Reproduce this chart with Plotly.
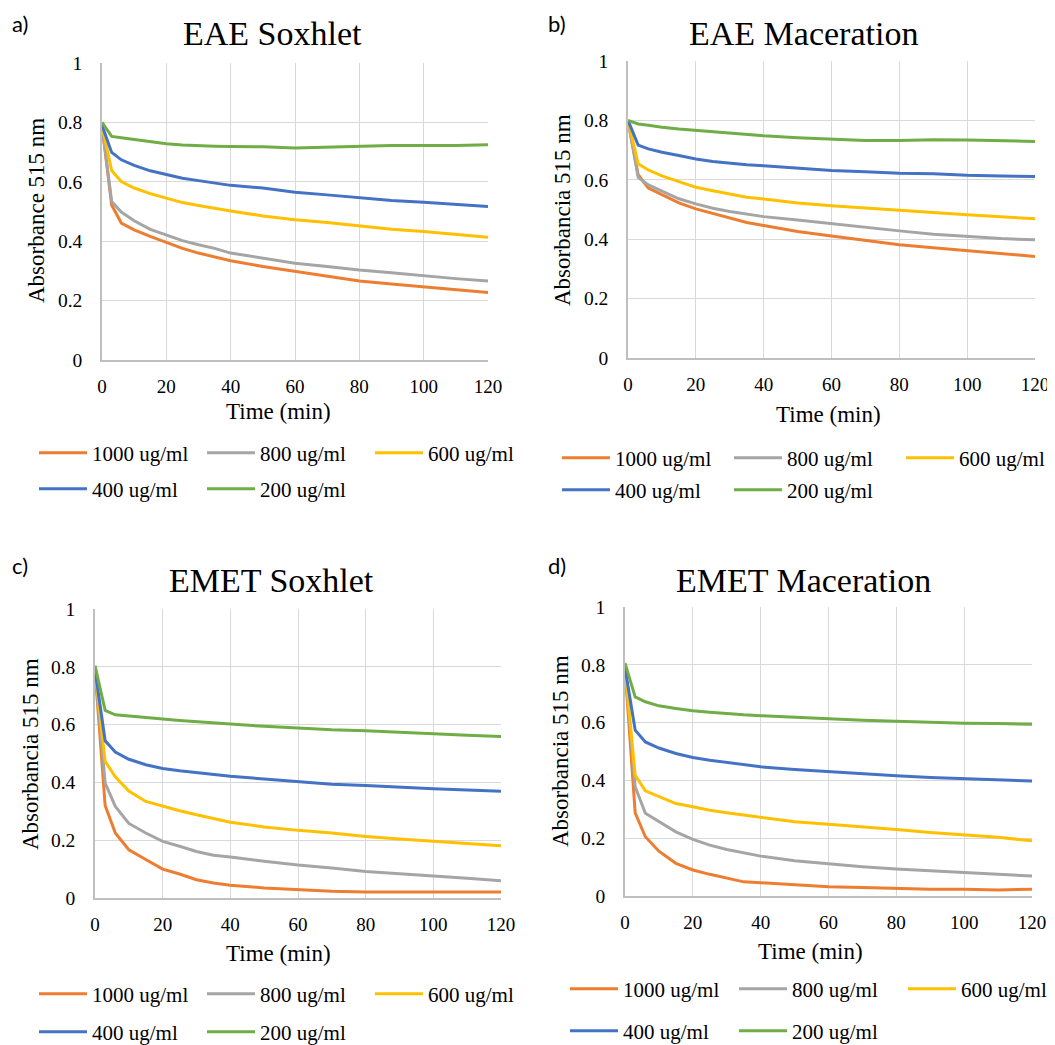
import plotly.graph_objects as go

W, H = 1055, 1045
OFF = 8  # default page body margin; the figure is shifted by this amount on screen
FW, FH = W - OFF, H - OFF

time_min = [0, 3, 6, 10, 15, 20, 25, 30, 35, 40, 50, 60, 70, 80, 90, 100, 110, 120]
series_names = ["1000 ug/ml", "800 ug/ml", "600 ug/ml", "400 ug/ml", "200 ug/ml"]
series_colors = ["#ED7D31", "#A5A5A5", "#FFC000", "#4472C4", "#70AD47"]

# a) EAE Soxhlet
eae_sox_1000 = [0.79, 0.522, 0.461, 0.438, 0.416, 0.396, 0.376, 0.360, 0.346, 0.334, 0.315, 0.298, 0.281, 0.266, 0.256, 0.247, 0.236, 0.227]
eae_sox_800 = [0.79, 0.534, 0.498, 0.469, 0.440, 0.421, 0.402, 0.388, 0.376, 0.360, 0.343, 0.326, 0.315, 0.303, 0.294, 0.283, 0.274, 0.266]
eae_sox_600 = [0.79, 0.638, 0.601, 0.579, 0.560, 0.544, 0.530, 0.520, 0.512, 0.502, 0.485, 0.472, 0.463, 0.452, 0.440, 0.433, 0.422, 0.413]
eae_sox_400 = [0.79, 0.699, 0.674, 0.655, 0.637, 0.624, 0.612, 0.604, 0.596, 0.588, 0.579, 0.565, 0.556, 0.547, 0.537, 0.531, 0.524, 0.517]
eae_sox_200 = [0.80, 0.753, 0.748, 0.742, 0.735, 0.728, 0.724, 0.721, 0.720, 0.719, 0.718, 0.714, 0.717, 0.718, 0.722, 0.722, 0.722, 0.725]

# b) EAE Maceration
eae_mac_1000 = [0.80, 0.617, 0.572, 0.550, 0.522, 0.502, 0.487, 0.471, 0.456, 0.446, 0.426, 0.411, 0.396, 0.381, 0.371, 0.362, 0.351, 0.342]
eae_mac_800 = [0.80, 0.608, 0.583, 0.563, 0.536, 0.519, 0.504, 0.493, 0.484, 0.476, 0.465, 0.452, 0.439, 0.428, 0.417, 0.409, 0.402, 0.398]
eae_mac_600 = [0.80, 0.654, 0.633, 0.613, 0.594, 0.575, 0.563, 0.552, 0.541, 0.535, 0.522, 0.513, 0.506, 0.497, 0.490, 0.482, 0.475, 0.469]
eae_mac_400 = [0.80, 0.717, 0.704, 0.693, 0.682, 0.670, 0.662, 0.656, 0.651, 0.647, 0.639, 0.631, 0.627, 0.622, 0.620, 0.615, 0.613, 0.611]
eae_mac_200 = [0.80, 0.788, 0.784, 0.777, 0.771, 0.766, 0.761, 0.757, 0.752, 0.748, 0.742, 0.737, 0.732, 0.732, 0.735, 0.734, 0.732, 0.729]

# c) EMET Soxhlet
emet_sox_1000 = [0.79, 0.320, 0.225, 0.167, 0.133, 0.100, 0.083, 0.063, 0.052, 0.044, 0.035, 0.029, 0.023, 0.021, 0.021, 0.021, 0.021, 0.021]
emet_sox_800 = [0.79, 0.398, 0.317, 0.258, 0.225, 0.196, 0.179, 0.161, 0.148, 0.142, 0.127, 0.114, 0.104, 0.092, 0.084, 0.077, 0.068, 0.060]
emet_sox_600 = [0.79, 0.473, 0.419, 0.370, 0.334, 0.317, 0.302, 0.288, 0.275, 0.262, 0.246, 0.234, 0.225, 0.213, 0.204, 0.196, 0.188, 0.181]
emet_sox_400 = [0.79, 0.544, 0.505, 0.480, 0.461, 0.448, 0.440, 0.433, 0.427, 0.421, 0.412, 0.404, 0.394, 0.389, 0.383, 0.378, 0.374, 0.369]
emet_sox_200 = [0.804, 0.649, 0.634, 0.629, 0.624, 0.619, 0.614, 0.610, 0.605, 0.601, 0.594, 0.588, 0.582, 0.579, 0.573, 0.569, 0.563, 0.559]

# d) EMET Maceration
emet_mac_1000 = [0.79, 0.288, 0.205, 0.155, 0.113, 0.090, 0.075, 0.063, 0.049, 0.046, 0.038, 0.032, 0.029, 0.026, 0.023, 0.023, 0.021, 0.023]
emet_mac_800 = [0.79, 0.378, 0.286, 0.258, 0.222, 0.196, 0.176, 0.161, 0.149, 0.138, 0.122, 0.111, 0.101, 0.093, 0.086, 0.081, 0.075, 0.069]
emet_mac_600 = [0.79, 0.418, 0.364, 0.344, 0.320, 0.309, 0.297, 0.288, 0.280, 0.272, 0.257, 0.248, 0.240, 0.230, 0.220, 0.212, 0.203, 0.191]
emet_mac_400 = [0.79, 0.574, 0.533, 0.512, 0.493, 0.479, 0.470, 0.462, 0.454, 0.447, 0.438, 0.430, 0.422, 0.416, 0.410, 0.406, 0.401, 0.398]
emet_mac_200 = [0.806, 0.689, 0.672, 0.658, 0.649, 0.641, 0.636, 0.631, 0.627, 0.624, 0.618, 0.612, 0.608, 0.605, 0.601, 0.598, 0.597, 0.594]

panel_titles = ["EAE Soxhlet", "EAE Maceration", "EMET Soxhlet", "EMET Maceration"]
panel_letters = ["a)", "b)", "c)", "d)"]
y_titles = ["Absorbance 515 nm", "Absorbancia 515 nm", "Absorbancia 515 nm", "Absorbancia 515 nm"]
x_title = "Time (min)"

panel_data = [
    [eae_sox_1000, eae_sox_800, eae_sox_600, eae_sox_400, eae_sox_200],
    [eae_mac_1000, eae_mac_800, eae_mac_600, eae_mac_400, eae_mac_200],
    [emet_sox_1000, emet_sox_800, emet_sox_600, emet_sox_400, emet_sox_200],
    [emet_mac_1000, emet_mac_800, emet_mac_600, emet_mac_400, emet_mac_200],
]

# layout geometry in screen pixels: plot area (left, right, top, bottom)
plot_px = [(102, 488, 63, 360), (628, 1035, 61, 358), (95, 501, 609, 898), (625, 1032, 607, 896)]
title_px = [(272, 33), (803, 33), (271, 580), (803, 580)]
letter_px = [(20, 23), (557, 23), (20, 565), (557, 565)]
ytitle_px = [(37, 211), (562, 210), (30, 754), (560, 751)]
xtitle_px = [(278, 411), (828, 414), (278, 953), (810, 951)]
# legend: (row1 (x,y), row2 (x,y), entry width)
legend_px = [((34, 453), (34, 489), 105), ((557, 458), (557, 490), 109),
             ((34, 994), (34, 1032), 105), ((565, 989), (565, 1031), 106)]

SERIF = "Liberation Serif"

def px_x(v):
    return (v - OFF) / FW

def px_y(v):
    return 1 - (v - OFF) / FH

fig = go.Figure()
layout = dict(
    width=FW, height=FH,
    margin=dict(l=0, r=0, t=0, b=0, autoexpand=False),
    paper_bgcolor="white", plot_bgcolor="white",
    font=dict(family=SERIF, color="black"),
    showlegend=True,
)
annotations = []

for i in range(4):
    ax_suffix = "" if i == 0 else str(i + 1)
    xref = "x" + ax_suffix
    yref = "y" + ax_suffix
    l, r, t, b = plot_px[i]
    leg1 = "legend" if i == 0 else "legend" + str(2 * i + 1)
    leg2 = "legend" + str(2 * i + 2)
    for k in range(5):
        fig.add_trace(go.Scatter(
            x=time_min, y=panel_data[i][k], mode="lines",
            name=series_names[k],
            line=dict(color=series_colors[k], width=3),
            xaxis=xref, yaxis=yref,
            legend=leg1 if k < 3 else leg2,
            hoverinfo="x+y+name",
        ))
    layout["xaxis" + ax_suffix] = dict(
        domain=[px_x(l), px_x(r)], anchor=yref, range=[0, 120], dtick=20,
        showgrid=True, gridcolor="#D9D9D9", gridwidth=1,
        showline=True, linecolor="#BFBFBF", linewidth=1.5, mirror=False,
        zeroline=False, ticks="", ticklabelstandoff=8,
        tickfont=dict(family=SERIF, size=19, color="black"),
    )
    layout["yaxis" + ax_suffix] = dict(
        domain=[px_y(b), px_y(t)], anchor=xref, range=[0, 1], dtick=0.2,
        showgrid=True, gridcolor="#D9D9D9", gridwidth=1,
        showline=True, linecolor="#BFBFBF", linewidth=1.5,
        zeroline=False, ticks="", ticklabelstandoff=14,
        tickfont=dict(family=SERIF, size=19.5, color="black"),
    )
    (r1, r2, ew) = legend_px[i]
    for name, (lx, ly) in ((leg1, r1), (leg2, r2)):
        layout[name] = dict(
            orientation="h", x=px_x(lx), y=px_y(ly), xanchor="left", yanchor="middle",
            xref="paper", yref="paper",
            bgcolor="rgba(0,0,0,0)", borderwidth=0,
            font=dict(family=SERIF, size=21, color="black"),
            itemwidth=48,
            entrywidth=ew, entrywidthmode="pixels",
            itemclick=False, itemdoubleclick=False,
        )
    tx, ty = title_px[i]
    annotations.append(dict(text=panel_titles[i], x=px_x(tx), y=px_y(ty), xref="paper", yref="paper",
                            xanchor="center", yanchor="middle", showarrow=False,
                            font=dict(family=SERIF, size=34, color="black")))
    lx, ly = letter_px[i]
    annotations.append(dict(text=panel_letters[i], x=px_x(lx), y=px_y(ly), xref="paper", yref="paper",
                            xanchor="center", yanchor="middle", showarrow=False,
                            font=dict(family="Lato", size=22, color="black")))
    yx, yy = ytitle_px[i]
    annotations.append(dict(text=y_titles[i], x=px_x(yx), y=px_y(yy), xref="paper", yref="paper",
                            xanchor="center", yanchor="middle", showarrow=False, textangle=-90,
                            font=dict(family=SERIF, size=23, color="black")))
    xx, xy = xtitle_px[i]
    annotations.append(dict(text=x_title, x=px_x(xx), y=px_y(xy), xref="paper", yref="paper",
                            xanchor="center", yanchor="middle", showarrow=False,
                            font=dict(family=SERIF, size=23, color="black")))

layout["annotations"] = annotations
fig.update_layout(**layout)
fig.write_html("out.html")
